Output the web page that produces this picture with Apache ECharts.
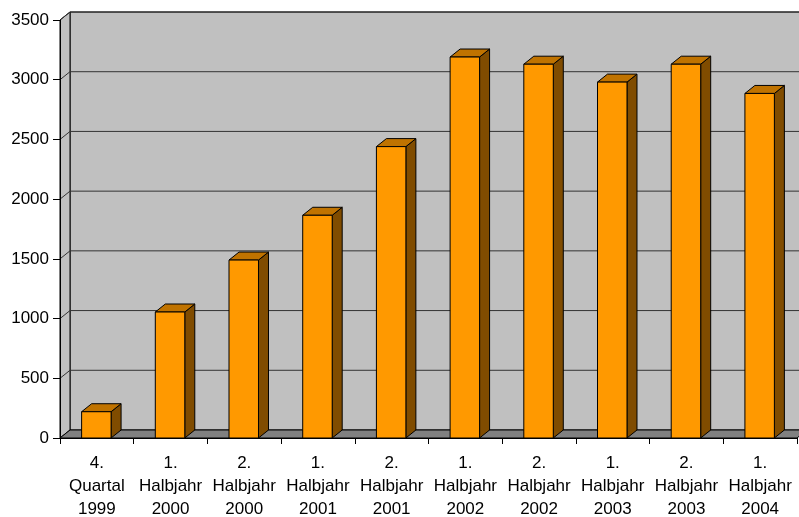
<!DOCTYPE html>
<html>
<head>
<meta charset="utf-8">
<script src="https://cdn.jsdelivr.net/npm/echarts@6/dist/echarts.min.js"></script>
<style>
html,body{margin:0;padding:0;background:#fff;}
#chart{width:799px;height:517px;}
</style>
</head>
<body>
<div id="chart"></div>
<script>
const categories = [
  "4.\nQuartal\n1999",
  "1.\nHalbjahr\n2000",
  "2.\nHalbjahr\n2000",
  "1.\nHalbjahr\n2001",
  "2.\nHalbjahr\n2001",
  "1.\nHalbjahr\n2002",
  "2.\nHalbjahr\n2002",
  "1.\nHalbjahr\n2003",
  "2.\nHalbjahr\n2003",
  "1.\nHalbjahr\n2004"
];
const values = [220, 1055, 1490, 1865, 2440, 3190, 3130, 2980, 3130, 2885];
const yTicks = [0, 500, 1000, 1500, 2000, 2500, 3000, 3500];

const DX = 10, DY = -8;
const chart = echarts.init(document.getElementById('chart'), null, {renderer: 'canvas'});

function renderWalls(params, api) {
  const cs = params.coordSys;
  const x0 = cs.x, x1 = cs.x + cs.width;
  const yTop = api.coord([0, yTicks[yTicks.length - 1]])[1];
  const yBase = api.coord([0, 0])[1];
  const children = [];
  children.push({type: 'polygon', shape: {points: [[x0+DX, yTop+DY],[x1+DX, yTop+DY],[x1+DX, yBase+DY],[x0+DX, yBase+DY]]},
    style: {fill: '#C0C0C0', stroke: '#000', lineWidth: 1}});
  children.push({type: 'polygon', shape: {points: [[x0, yTop],[x0+DX, yTop+DY],[x0+DX, yBase+DY],[x0, yBase]]},
    style: {fill: '#C0C0C0', stroke: '#000', lineWidth: 1}});
  children.push({type: 'polygon', shape: {points: [[x0, yBase],[x0+DX, yBase+DY],[x1+DX, yBase+DY],[x1, yBase]]},
    style: {fill: '#808080', stroke: '#000', lineWidth: 1}});
  yTicks.forEach(function (v) {
    if (v === 0) return;
    const y = api.coord([0, v])[1];
    children.push({type: 'polyline', shape: {points: [[x0, y],[x0+DX, y+DY],[x1+DX, y+DY]]},
      style: {fill: null, stroke: '#333', lineWidth: 1}});
  });
  return {type: 'group', children: children};
}

function renderBar(params, api) {
  const idx = api.value(0), val = api.value(1);
  const top = api.coord([idx, val]);
  const base = api.coord([idx, 0]);
  const w = api.size([1, 0])[0] * 0.4;
  const xa = top[0] - w / 2 - 0.5, xb = top[0] + w / 2 - 0.5;
  const yt = top[1], yb = base[1];
  return {
    type: 'group',
    children: [
      {type: 'polygon', shape: {points: [[xb, yt],[xb+DX, yt+DY],[xb+DX, yb+DY],[xb, yb]]},
        style: {fill: '#804C00', stroke: '#000', lineWidth: 1}},
      {type: 'polygon', shape: {points: [[xa, yt],[xa+DX, yt+DY],[xb+DX, yt+DY],[xb, yt]]},
        style: {fill: '#C07300', stroke: '#000', lineWidth: 1}},
      {type: 'rect', shape: {x: xa, y: yt, width: xb - xa, height: yb - yt},
        style: {fill: '#FF9900', stroke: '#000', lineWidth: 1}}
    ]
  };
}

chart.setOption({
  animation: false,
  backgroundColor: '#ffffff',
  grid: {left: 60, right: 2, top: 20, bottom: 79, containLabel: false, outerBoundsMode: 'none'},
  xAxis: {
    type: 'category',
    data: categories,
    boundaryGap: true,
    axisLine: {show: true, lineStyle: {color: '#000', width: 1}},
    axisTick: {show: true, length: 6, lineStyle: {color: '#000'}},
    axisLabel: {color: '#000', fontSize: 17, fontFamily: 'Liberation Sans, Arial, sans-serif',
      lineHeight: 23, margin: 14, interval: 0, align: 'center'},
    splitLine: {show: false},
    z: 10
  },
  yAxis: {
    type: 'value',
    min: 0, max: 3500, interval: 500,
    axisLine: {show: true, lineStyle: {color: '#000', width: 1}},
    axisTick: {show: true, length: 7, lineStyle: {color: '#000'}},
    axisLabel: {color: '#000', fontSize: 17, fontFamily: 'Liberation Sans, Arial, sans-serif', margin: 11,
      formatter: function (v) { return String(v); }},
    splitLine: {show: false},
    z: 10
  },
  series: [
    {
      type: 'custom',
      renderItem: renderWalls,
      data: [[0, 0]],
      z: 1,
      silent: true,
      clip: false
    },
    {
      type: 'custom',
      renderItem: renderBar,
      data: values.map(function (v, i) { return [i, v]; }),
      encode: {x: 0, y: 1},
      z: 5,
      clip: false
    }
  ]
});
</script>
</body>
</html>
